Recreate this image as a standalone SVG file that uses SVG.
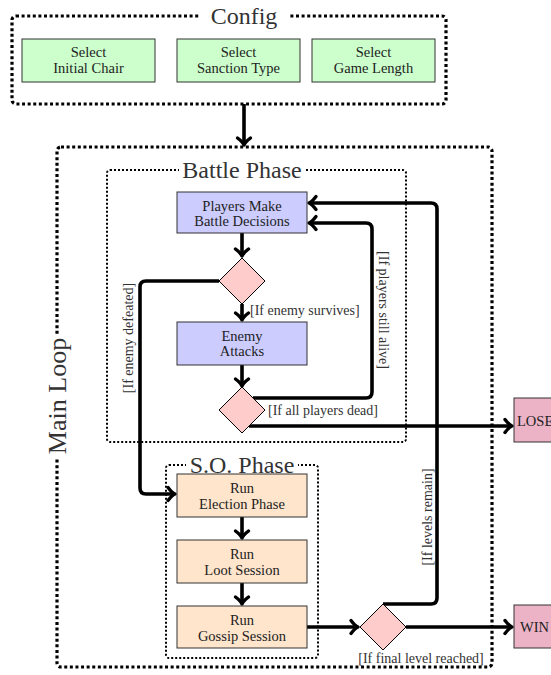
<svg xmlns="http://www.w3.org/2000/svg" width="551" height="675" viewBox="0 0 551 675" font-family="'Liberation Serif', 'Times New Roman', serif">
<style>
text{font-family:'Liberation Serif','Times New Roman',serif;fill:#222}
.nt{font-size:14.5px;text-anchor:middle}
.lb{font-size:14px;fill:#333}
.tt{font-size:24px;text-anchor:middle;fill:#333}
.grp{fill:none;stroke:#000;stroke-width:3.2;stroke-dasharray:3 2.6;stroke-linejoin:round}
.sub{fill:none;stroke:#000;stroke-width:2;stroke-dasharray:2 2;stroke-linejoin:round}
.box{stroke:#333;stroke-width:1}
.g{fill:#ccffcc}.b{fill:#ccccff}.o{fill:#ffe5cc}.p{fill:#ecb3c6}.d{fill:#ffcccc;stroke:#000;stroke-width:1}
.c{fill:none;stroke:#000;stroke-width:3.6;marker-end:url(#arr)}
</style>
<defs>
<marker id="arr" markerUnits="userSpaceOnUse" markerWidth="20" markerHeight="20" viewBox="-10 -10 20 20" refX="0" refY="0" orient="auto" overflow="visible">
<path d="M-7,-6.5 Q-3,-1.2 0,0 Q-3,1.2 -7,6.5" fill="none" stroke="#000" stroke-width="3.4" stroke-linecap="round" stroke-linejoin="round"/>
</marker>
</defs>
<rect width="551" height="675" fill="#fff"/>

<g id="config-frame">
<rect class="grp" x="12" y="16" width="434" height="88" rx="4"/>
<rect x="200" y="4" width="88" height="24" fill="#fff"/>
<text class="tt" x="244" y="24" font-family="'Liberation Serif', serif">Config</text>
</g>
<g id="mainloop-frame">
<rect class="grp" x="57" y="147" width="435" height="520" rx="4"/>
<rect x="45" y="334" width="24" height="124" fill="#fff"/>
<text class="tt" style="font-size:26px" transform="translate(66,396) rotate(-90)" font-family="'Liberation Serif', serif">Main Loop</text>
</g>
<g id="battle-frame">
<rect class="sub" x="107" y="170" width="299" height="272" rx="3"/>
<rect x="179" y="158" width="126" height="24" fill="#fff"/>
<text class="tt" x="242" y="178" font-family="'Liberation Serif', serif">Battle Phase</text>
</g>
<g id="so-frame">
<rect class="sub" x="166" y="465" width="152" height="193" rx="3"/>
<rect x="186" y="453" width="112" height="24" fill="#fff"/>
<text class="tt" x="242" y="473" font-family="'Liberation Serif', serif">S.O. Phase</text>
</g>

<g id="connectors">
<path class="c" d="M244,104 V145"/>
<path class="c" d="M242,233 V256"/>
<path class="c" d="M242,304 V320"/>
<path class="c" d="M242,365 V386"/>
<path class="c" d="M242,517 V538"/>
<path class="c" d="M242,583 V604"/>
<path class="c" d="M307,627 H358"/>
<path class="c" d="M406,627 H512"/>
<path class="c" d="M249,426 H512"/>
<path class="c" d="M253,398 H366 Q372,398 372,392 V229 Q372,223 366,223 H309"/>
<path class="c" d="M383,604 H431 Q437,604 437,598 V209 Q437,203 431,203 H309"/>
<path class="c" d="M219,281 H146 Q140,281 140,287 V488 Q140,494 146,494 H175"/>
</g>

<g id="labels" font-family="'Liberation Serif', serif">
<text class="lb" x="250" y="315">[If enemy survives]</text>
<text class="lb" x="268" y="415">[If all players dead]</text>
<text class="lb" x="421" y="663" text-anchor="middle">[If final level reached]</text>
<text class="lb" text-anchor="middle" transform="translate(379,310) rotate(90)">[If players still alive]</text>
<text class="lb" text-anchor="middle" transform="translate(432,517) rotate(-90)">[If levels remain]</text>
<text class="lb" text-anchor="middle" transform="translate(133,338) rotate(-90)">[If enemy defeated]</text>
</g>

<g font-family="'Liberation Serif', serif">
<g id="select-chair"><rect class="box g" x="22" y="39" width="133" height="43"/><text class="nt" x="88.5" y="57">Select</text><text class="nt" x="88.5" y="72.5">Initial Chair</text></g>
<g id="select-sanction"><rect class="box g" x="177" y="39" width="123" height="43"/><text class="nt" x="238.5" y="57">Select</text><text class="nt" x="238.5" y="72.5">Sanction Type</text></g>
<g id="select-length"><rect class="box g" x="312" y="39" width="123" height="43"/><text class="nt" x="373.5" y="57">Select</text><text class="nt" x="373.5" y="72.5">Game Length</text></g>

<g id="players-decide"><rect class="box b" x="177" y="192" width="130" height="41"/><text class="nt" x="242" y="211">Players Make</text><text class="nt" x="242" y="226">Battle Decisions</text></g>
<g id="enemy-check"><polygon class="d" points="242,258 265,281 242,304 219,281"/></g>
<g id="enemy-attacks"><rect class="box b" x="177" y="322" width="130" height="43"/><text class="nt" x="242" y="341">Enemy</text><text class="nt" x="242" y="356">Attacks</text></g>
<g id="players-check"><polygon class="d" points="242,387 265,410 242,433 219,410"/></g>

<g id="election"><rect class="box o" x="177" y="474" width="130" height="43"/><text class="nt" x="242" y="493">Run</text><text class="nt" x="242" y="508.5">Election Phase</text></g>
<g id="loot"><rect class="box o" x="177" y="540" width="130" height="43"/><text class="nt" x="242" y="559">Run</text><text class="nt" x="242" y="574.5">Loot Session</text></g>
<g id="gossip"><rect class="box o" x="177" y="606" width="130" height="42"/><text class="nt" x="242" y="625">Run</text><text class="nt" x="242" y="640.5">Gossip Session</text></g>
<g id="level-check"><polygon class="d" points="383,604 406,627 383,650 360,627"/></g>

<g id="lose"><rect class="box p" x="514" y="398" width="50" height="44"/><text class="nt" x="517" y="426" style="text-anchor:start">LOSE</text></g>
<g id="win"><rect class="box p" x="514" y="605" width="50" height="43"/><text class="nt" x="520" y="632" style="text-anchor:start">WIN</text></g>
</g>
</svg>
